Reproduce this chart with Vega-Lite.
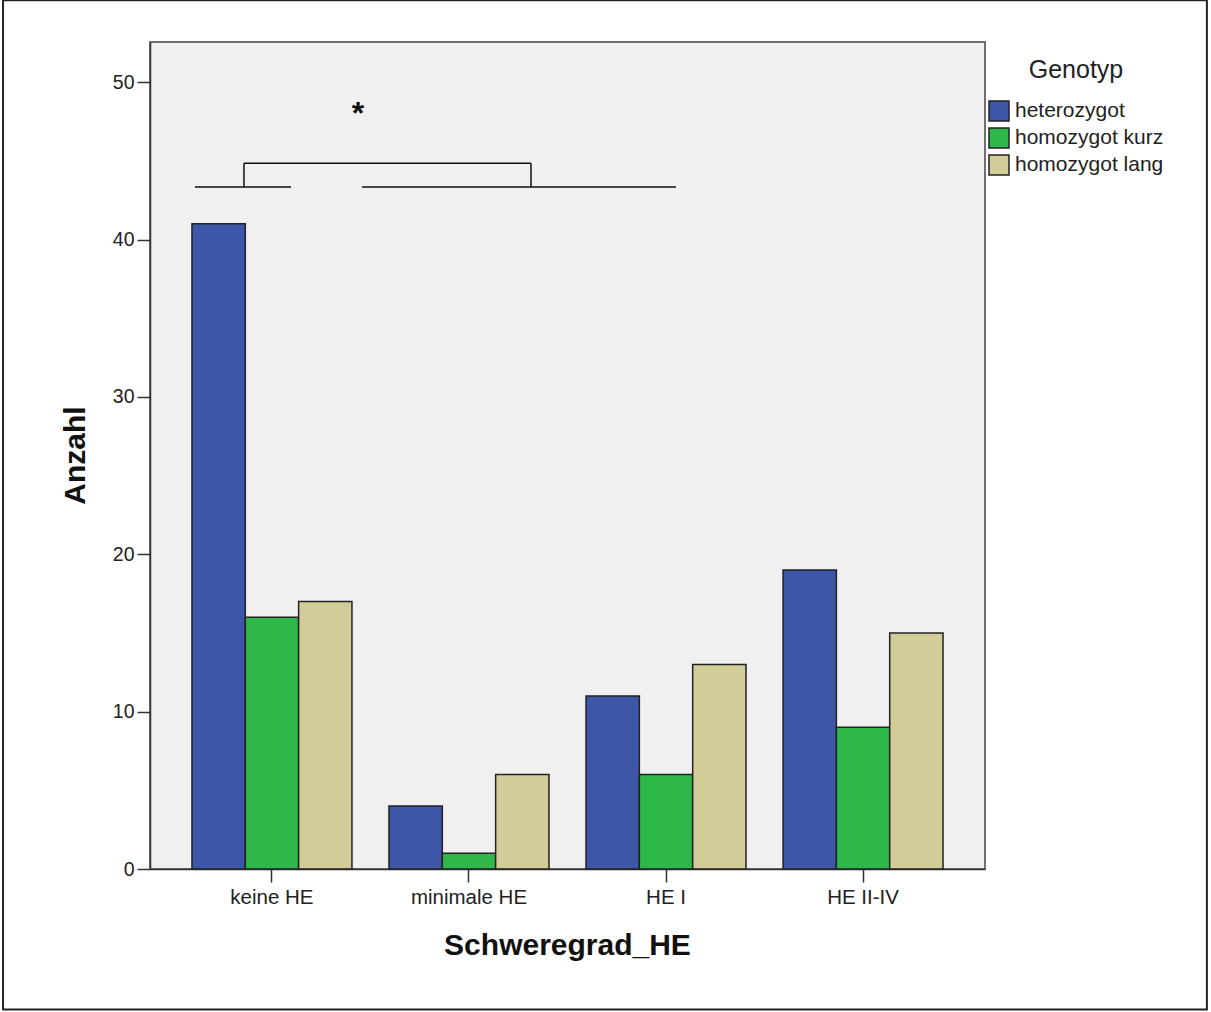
{
  "$schema": "https://vega.github.io/schema/vega-lite/v6.json",
  "autosize": "none",
  "width": 835,
  "height": 827,
  "padding": {"left": 150, "top": 42, "right": 226, "bottom": 143},
  "background": "white",
  "config": {
    "font": "Liberation Sans",
    "view": {"fill": "#f0f0f0", "stroke": "#444444", "strokeWidth": 1.5},
    "axis": {"grid": false, "domainColor": "#333333", "domainWidth": 1.5, "tickColor": "#333333", "tickWidth": 1.5, "tickSize": 13, "labelColor": "#222222", "labelFont": "Liberation Sans", "titleColor": "#111111", "titleFont": "Liberation Sans"}
  },
  "datasets": {
    "bars": [
      {"grad": "keine HE", "genotyp": "heterozygot", "anzahl": 41},
      {"grad": "keine HE", "genotyp": "homozygot kurz", "anzahl": 16},
      {"grad": "keine HE", "genotyp": "homozygot lang", "anzahl": 17},
      {"grad": "minimale HE", "genotyp": "heterozygot", "anzahl": 4},
      {"grad": "minimale HE", "genotyp": "homozygot kurz", "anzahl": 1},
      {"grad": "minimale HE", "genotyp": "homozygot lang", "anzahl": 6},
      {"grad": "HE I", "genotyp": "heterozygot", "anzahl": 11},
      {"grad": "HE I", "genotyp": "homozygot kurz", "anzahl": 6},
      {"grad": "HE I", "genotyp": "homozygot lang", "anzahl": 13},
      {"grad": "HE II-IV", "genotyp": "heterozygot", "anzahl": 19},
      {"grad": "HE II-IV", "genotyp": "homozygot kurz", "anzahl": 9},
      {"grad": "HE II-IV", "genotyp": "homozygot lang", "anzahl": 15}
    ],
    "bracket": [
      {"x1": 0.228, "x2": 0.716, "y1": 43.33, "y2": 43.33},
      {"x1": 0.477, "x2": 0.477, "y1": 43.33, "y2": 44.85},
      {"x1": 0.477, "x2": 1.934, "y1": 44.85, "y2": 44.85},
      {"x1": 1.934, "x2": 1.934, "y1": 44.85, "y2": 43.33},
      {"x1": 1.076, "x2": 2.670, "y1": 43.33, "y2": 43.33}
    ],
    "star": [
      {"px": 1.056, "py": 47.95, "label": "*"}
    ],
    "frame": [
      {"fx1": -0.746, "fx2": 5.365, "fy1": -8.92, "fy2": 55.2}
    ]
  },
  "layer": [
    {
      "data": {"name": "bars"},
      "mark": {"type": "bar", "stroke": "#222222", "strokeWidth": 1.5},
      "encoding": {
        "x": {
          "field": "grad", "type": "nominal",
          "sort": ["keine HE", "minimale HE", "HE I", "HE II-IV"],
          "scale": {"paddingInner": 0.188, "paddingOuter": 0.213},
          "axis": {"title": "Schweregrad_HE", "labelAngle": 0, "labelFontSize": 20.5, "labelPadding": 5, "titleFontSize": 30, "titleFontWeight": "bold", "titleX": 417, "titleY": 76, "titleBaseline": "middle"}
        },
        "xOffset": {"field": "genotyp", "type": "nominal", "scale": {"paddingInner": 0, "paddingOuter": 0}},
        "y": {
          "field": "anzahl", "type": "quantitative",
          "scale": {"domain": [0, 52.55], "nice": false},
          "axis": {"title": "Anzahl", "values": [0, 10, 20, 30, 40, 50], "labelFontSize": 19.5, "labelPadding": 3, "titleFontSize": 30, "titleFontWeight": "bold", "titleX": -75, "titleY": 413, "titleAngle": 270, "titleBaseline": "middle", "titleAlign": "center"}
        },
        "fill": {
          "field": "genotyp", "type": "nominal",
          "scale": {"domain": ["heterozygot", "homozygot kurz", "homozygot lang"], "range": ["#3d56a8", "#2eb84a", "#d2cd98"]},
          "legend": {"title": "Genotyp", "orient": "none", "legendX": 838, "legendY": 16, "titleFontSize": 25, "titleFontWeight": "normal", "titleColor": "#222222", "titleAnchor": "middle", "titlePadding": 17, "labelFontSize": 21, "labelColor": "#222222", "labelOffset": 5, "symbolType": "square", "symbolSize": 400, "symbolStrokeColor": "#222222", "symbolStrokeWidth": 1.5, "rowPadding": 1}
        }
      }
    },
    {
      "data": {"name": "bracket"},
      "mark": {"type": "rule", "color": "#111111", "strokeWidth": 1.5},
      "encoding": {
        "x": {"field": "x1", "type": "quantitative", "scale": {"domain": [0, 4.2386], "nice": false, "zero": false}, "axis": null},
        "x2": {"field": "x2"},
        "y": {"field": "y1", "type": "quantitative", "scale": {"domain": [0, 52.55], "nice": false}},
        "y2": {"field": "y2"}
      }
    },
    {
      "data": {"name": "star"},
      "mark": {"type": "text", "fontSize": 32, "fontWeight": "bold", "color": "#111111", "baseline": "middle", "align": "center"},
      "encoding": {
        "x": {"field": "px", "type": "quantitative", "scale": {"domain": [0, 4.2386], "nice": false, "zero": false}, "axis": null},
        "y": {"field": "py", "type": "quantitative", "scale": {"domain": [0, 52.55], "nice": false}},
        "text": {"field": "label"}
      }
    },
    {
      "data": {"name": "frame"},
      "mark": {"type": "rect", "fill": null, "fillOpacity": 0, "stroke": "#222222", "strokeWidth": 2},
      "encoding": {
        "x": {"field": "fx1", "type": "quantitative", "scale": {"domain": [0, 4.2386], "nice": false, "zero": false}, "axis": null},
        "x2": {"field": "fx2"},
        "y": {"field": "fy1", "type": "quantitative", "scale": {"domain": [0, 52.55], "nice": false}},
        "y2": {"field": "fy2"}
      }
    }
  ],
  "resolve": {"scale": {"x": "independent"}}
}
